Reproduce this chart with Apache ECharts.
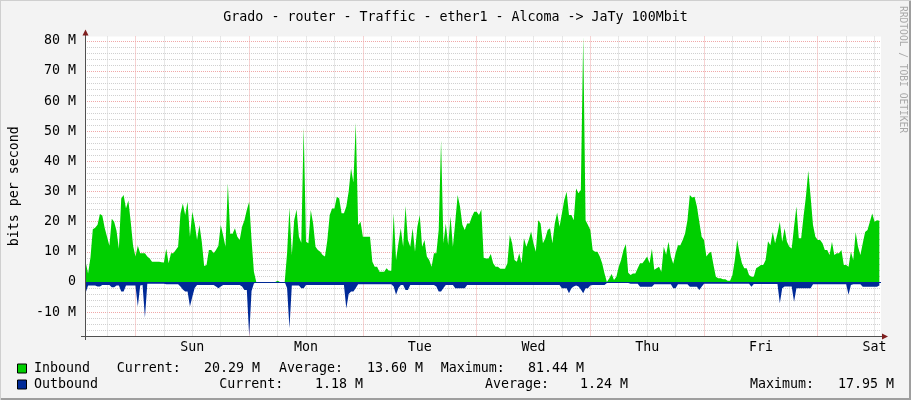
<!DOCTYPE html>
<html><head><meta charset="utf-8">
<script src="https://cdn.jsdelivr.net/npm/echarts@6/dist/echarts.min.js"></script>
<style>html,body{margin:0;padding:0;background:#f3f3f3}#c{width:911px;height:400px}</style>
</head><body><div id="c"></div>
<script>
// ---------- data ----------
const titleText = 'Grado - router - Traffic - ether1 - Alcoma -> JaTy 100Mbit';
const yAxisTitle = 'bits per second';
const sideText = 'RRDTOOL / TOBI OETIKER';
const dayLabels = ['Sun', 'Mon', 'Tue', 'Wed', 'Thu', 'Fri', 'Sat'];
const dayLabelHours = [12, 36, 60, 84, 108, 132, 156];
const majorGridHours = [0, 24, 48, 72, 96, 120, 144];
const minorGridHours = [-6, 6, 12, 18, 30, 36, 42, 54, 60, 66, 78, 84, 90, 102, 108, 114, 126, 132, 138, 150, 156];
const yLabelValues = [-10, 0, 10, 20, 30, 40, 50, 60, 70, 80];
const majorGridValues = [-10, 0, 10, 20, 30, 40, 50, 60, 70, 80];
const minorGridValues = [-16, -14, -12, -8, -6, -4, -2, 2, 4, 6, 8, 12, 14, 16, 18, 22, 24, 26, 28, 32, 34, 36, 38,
  42, 44, 46, 48, 52, 54, 56, 58, 62, 64, 66, 68, 72, 74, 76, 78];
const xMinHour = -10.65, xMaxHour = 157.35;   // hours relative to Sunday 00:00
const yMinValue = -17.95, yMaxValue = 81.44;  // M bits/s
const startHour = -10.5, stepHours = 0.5;

const inbound = [
  6.5, 2.8, 8, 17.5, 18, 19, 22.5, 22, 18, 15,
  12, 21, 20, 17, 11, 27.7, 28.8, 24.4, 27, 20,
  12, 8.4, 12, 9.5, 9.5, 9.5, 8.4, 7.8, 6.7, 6.7,
  6.7, 6.7, 6.5, 6.4, 11, 6.2, 9.5, 9.5, 10.6, 11.7,
  22.7, 26, 22.2, 26.6, 15, 23.3, 19.4, 13.9, 18.9, 13.3,
  5.3, 5.6, 10.6, 10.6, 9.5, 10.6, 12, 18.9, 15.5, 11.7,
  32.7, 16, 16, 17.8, 15, 13.9, 18.3, 20.5, 23.9, 26.6,
  14, 3.4, 0, 0, 0, 0, 0, 0, 0, 0,
  0, 0.4, 0, 0, 0, 9.5, 24.7, 8.9, 20.5, 24,
  15, 13, 51.3, 13.3, 12.8, 23.9, 19.4, 11.7, 10.6, 10,
  8.9, 8.4, 13.9, 22.2, 24.4, 24.4, 28.3, 27.7, 22.8, 22.8,
  25, 30, 37.7, 33, 52.8, 18.9, 20, 15, 15, 15,
  15, 6.7, 5, 5, 3.4, 3.4, 3.4, 4.5, 3.7, 3.7,
  22.8, 7.3, 12.8, 17.8, 11.7, 25.2, 13.9, 11.7, 17.8, 10,
  18.3, 22.2, 11.7, 13.9, 8.4, 7.3, 5, 9.5, 9.5, 17.2,
  47, 12.8, 19.4, 12.2, 21.7, 11.7, 20, 28.8, 25, 19,
  17.2, 19.4, 19.4, 21.6, 23.3, 23.3, 22.2, 24, 8, 7.8,
  7.8, 9.3, 6.2, 5, 5, 4.4, 4.4, 4.4, 6.2, 15.6,
  12.8, 7.3, 6.7, 9.5, 6.2, 14.5, 11.7, 13.9, 16.7, 12.8,
  10, 20.5, 19.4, 12.8, 14.5, 17.2, 17.8, 12.8, 19.4, 23,
  18.3, 22.7, 27.2, 29.9, 22.2, 22.2, 20.5, 31, 29.4, 30.5,
  81.44, 20.5, 18.9, 17.2, 10.6, 10, 10, 8.4, 6.2, 2.8,
  0, 1.2, 2.6, 0.6, 1.7, 5, 7.3, 10.6, 12.6, 3,
  2.3, 2.8, 2.8, 4.5, 6.2, 6.2, 7.3, 8.4, 6.2, 11,
  4, 4.5, 5, 3.4, 11.7, 9, 13.3, 8.4, 6, 9.5,
  12.2, 12.2, 13.9, 16.1, 20.5, 28.8, 28, 28.3, 25, 20,
  15, 13.9, 8.4, 9.5, 10, 5.6, 1.7, 1.2, 1.2, 0.85,
  0.85, 0.4, 0.4, 2.3, 7.3, 14, 9.5, 6.2, 4.5, 4.5,
  2.3, 1.7, 1.7, 4.5, 5, 5.6, 5.6, 7.3, 13.5, 12.2,
  16.6, 12.8, 16.1, 20, 13.3, 17.8, 13.3, 11.7, 11.1, 18.3,
  25, 14.5, 14.5, 21.7, 28.3, 36.9, 28.3, 18.9, 15, 13.9,
  13.9, 12.8, 10.6, 10.6, 8.9, 13.3, 8.9, 9.5, 9.5, 10.6,
  5.6, 5.6, 5, 10, 7.3, 16.6, 11.7, 8.9, 12.8, 16.6,
  17.2, 20, 22.7, 20, 20.5, 20.29
];

const outbound = [
  -3.5, -1.2, -1.2, -1.2, -1.2, -1.5, -1.5, -1, -1, -1,
  -1, -1.8, -1.8, -1.2, -1.2, -3.2, -3.2, -1.2, -1.2, -1.2,
  -1.2, -1.2, -8.2, -1.2, -1, -11.9, -0.6, -0.6, -0.6, -0.6,
  -0.6, -0.6, -0.6, -0.6, -0.8, -0.8, -0.8, -0.8, -0.8, -0.8,
  -1.5, -2.5, -3.2, -3.2, -8.2, -4.9, -2, -1, -1, -1,
  -1, -1, -1, -1, -1, -1.5, -2.1, -1.5, -1, -1,
  -1, -1, -1, -1, -1, -1, -1.5, -2.7, -2.7, -17.95,
  -3, -0.5, 0, 0, 0, 0, 0, 0, 0, 0,
  0, 0, 0, 0, 0, -2, -15.4, -1.2, -1.2, -1.2,
  -1.2, -2.1, -2.1, -1, -1, -1, -1, -1, -1, -1,
  -1, -1, -1, -1, -1, -1, -1, -1, -1, -1,
  -8.8, -4, -3.2, -3.2, -2, -0.8, -0.8, -0.8, -0.8, -0.8,
  -0.8, -0.8, -0.8, -0.8, -0.8, -0.8, -0.8, -0.8, -0.8, -0.8,
  -1.5, -4.3, -2, -1, -1, -2.7, -2.7, -1, -1, -1,
  -1, -1, -1, -1, -1, -1, -1, -1, -1.5, -3.2,
  -3.2, -2, -1, -1, -1, -1, -2.1, -2.1, -2.1, -2.1,
  -2.1, -1, -1, -1, -1, -1, -1, -1, -1, -1,
  -1, -1, -1, -1, -1, -1, -1, -1, -1, -1,
  -1, -1, -1, -1, -1, -1, -1, -1, -1, -1,
  -1, -1, -1, -1, -1, -1, -1, -1, -1, -1,
  -1, -2.1, -2.1, -2.1, -3.8, -2.1, -1.5, -1.2, -1.5, -2.5,
  -3.8, -2.1, -2.1, -1.2, -1, -1, -1, -1, -1, -1,
  -0.4, -0.4, -0.4, -0.4, -0.4, -0.4, -0.4, -0.4, -0.4, -0.4,
  -0.6, -0.6, -0.6, -0.6, -1.6, -1.6, -1.6, -1.6, -1.6, -1.6,
  -0.8, -0.8, -0.8, -0.8, -0.8, -0.8, -0.8, -0.8, -2.1, -2.1,
  -0.8, -0.8, -0.8, -0.8, -0.8, -1.6, -1.6, -1.6, -1.6, -2.7,
  -1.6, -0.6, -0.6, -0.6, -0.6, -0.6, -0.6, -0.6, -0.6, -0.6,
  -0.6, -0.6, -0.6, -0.6, -0.6, -0.6, -0.6, -0.6, -0.6, -0.6,
  -0.6, -1.6, -0.7, -0.7, -0.7, -0.7, -0.7, -0.7, -0.7, -0.7,
  -0.7, -0.7, -0.7, -7.1, -2.1, -1.5, -1.5, -1.5, -1.5, -6.6,
  -2.1, -2.1, -2.1, -2.1, -2.1, -2.1, -2.1, -0.8, -0.8, -0.8,
  -0.8, -0.8, -0.8, -0.8, -0.8, -0.8, -0.8, -0.8, -0.8, -0.8,
  -0.8, -0.8, -4.3, -1, -0.8, -0.8, -0.8, -0.8, -1.6, -1.6,
  -1.6, -1.6, -1.6, -1.6, -1.6, -1.18
];

const legendNames = ['Inbound', 'Outbound'];
const legendCurrent = ['20.29 M', '1.18 M'];
const legendAverage = ['13.60 M', '1.24 M'];
const legendMaximum = ['81.44 M', '17.95 M'];

// ---------- styles ----------
const FONT = 'DejaVu Sans Mono';
const FS = 13.3;
const colors = ['#00CF00', '#002A97'];
const gridMinor = '#d0d0d0';
const gridMajor = '#f0a8a8';
const axisColor = '#505050';

const inData = inbound.map((v, i) => [startHour + i * stepHours, v]);
const outData = outbound.map((v, i) => [startHour + i * stepHours, v]);

const chart = echarts.init(document.getElementById('c'), null, {renderer: 'canvas', width: 911, height: 400});

// grid-only axes: same range as the main axes, only their split lines are drawn
const gridX = (vals, color) => ({
  type: 'value', min: xMinHour, max: xMaxHour, show: true, position: 'bottom',
  axisLine: {show: false}, axisLabel: {show: false},
  axisTick: {show: false, customValues: vals},
  splitLine: {show: true, showMinLine: true, showMaxLine: true, lineStyle: {color: color, width: 1, type: [1, 1]}}
});
const gridY = (vals, color) => ({
  type: 'value', min: yMinValue, max: yMaxValue, show: true, position: 'left',
  axisLine: {show: false}, axisLabel: {show: false},
  axisTick: {show: false, customValues: vals},
  splitLine: {show: true, showMinLine: true, showMaxLine: true, lineStyle: {color: color, width: 1, type: [1, 1]}}
});

const option = {
  animation: false,
  backgroundColor: '#f3f3f3',
  title: {
    text: titleText, left: 'center', top: 6,
    textStyle: {fontFamily: FONT, fontSize: FS, fontWeight: 'normal', color: '#000'}
  },
  grid: {left: 81, right: 30, top: 36.5, bottom: 64, show: true, backgroundColor: '#ffffff', borderWidth: 0},
  xAxis: [
    {
      type: 'value', min: xMinHour, max: xMaxHour, position: 'bottom', z: 5,
      axisLine: {show: true, onZero: false, lineStyle: {color: axisColor, width: 1}},
      axisTick: {show: false},
      splitLine: {show: false},
      axisLabel: {
        customValues: dayLabelHours, margin: 5,
        fontFamily: FONT, fontSize: FS, color: '#000',
        formatter: v => dayLabels[dayLabelHours.indexOf(v)] || ''
      }
    },
    gridX(minorGridHours, gridMinor),
    gridX(majorGridHours, gridMajor)
  ],
  yAxis: [
    {
      type: 'value', min: yMinValue, max: yMaxValue, position: 'left', z: 5,
      name: yAxisTitle, nameLocation: 'middle', nameGap: 64,
      nameTextStyle: {fontFamily: FONT, fontSize: FS, color: '#000'},
      axisLine: {show: true, onZero: false, lineStyle: {color: axisColor, width: 1}},
      axisTick: {show: false},
      splitLine: {show: false},
      axisLabel: {
        customValues: yLabelValues, margin: 9,
        fontFamily: FONT, fontSize: FS, color: '#000',
        formatter: v => v === 0 ? '0' : v + ' M'
      }
    },
    gridY(minorGridValues, gridMinor),
    gridY(majorGridValues, gridMajor)
  ],
  series: [
    {
      name: legendNames[0], type: 'line', data: inData, z: 2,
      showSymbol: false, silent: true,
      lineStyle: {width: 0, color: colors[0]}, itemStyle: {color: colors[0]},
      areaStyle: {color: colors[0], opacity: 1}
    },
    {
      name: legendNames[1], type: 'line', data: outData, z: 3,
      showSymbol: false, silent: true,
      lineStyle: {width: 0, color: colors[1]}, itemStyle: {color: colors[1]},
      areaStyle: {color: colors[1], opacity: 1},
      markLine: {silent: true, symbol: ['none', 'none'], label: {show: false}, animation: false,
        data: [{yAxis: 0, lineStyle: {color: colors[1], width: 1.2, type: 'solid'}}]}
    }
  ]
};
chart.setOption(option);

// ---------- decorations: arrows, legend, border ----------
const xl = chart.convertToPixel({xAxisIndex: 0}, xMinHour);
const xr = chart.convertToPixel({xAxisIndex: 0}, xMaxHour);
const yt = chart.convertToPixel({yAxisIndex: 0}, yMaxValue);
const yb = chart.convertToPixel({yAxisIndex: 0}, yMinValue);
const ax = Math.round(xl) + 0.5, ay = Math.round(yb) + 0.5;

const txt = (s, x, y) => ({
  type: 'text', x: x, y: y, silent: true,
  style: {text: s, fontFamily: FONT, fontSize: FS, fill: '#000', align: 'left', verticalAlign: 'middle'}
});

const rowY = [368.5, 384.5];
const colX = [
  [34, 116.7, 204, 279, 367, 440.7, 528],
  [34, 219.3, 315, 485, 580, 750, 838]
];
const graphics = [
  {type: 'line', silent: true, shape: {x1: ax, y1: yb, x2: ax, y2: yb + 4}, style: {stroke: axisColor, lineWidth: 1}},
  {type: 'line', silent: true, shape: {x1: xl - 4, y1: ay, x2: xl, y2: ay}, style: {stroke: axisColor, lineWidth: 1}},
  {type: 'line', silent: true, shape: {x1: ax, y1: yt, x2: ax, y2: yt - 4}, style: {stroke: axisColor, lineWidth: 1}},
  {type: 'line', silent: true, shape: {x1: xr, y1: ay, x2: xr + 3, y2: ay}, style: {stroke: axisColor, lineWidth: 1}},
  {type: 'polygon', silent: true, shape: {points: [[ax - 3, yt - 1], [ax + 3, yt - 1], [ax, yt - 7]]}, style: {fill: '#7f1f1f'}},
  {type: 'polygon', silent: true, shape: {points: [[xr + 1, ay - 3], [xr + 1, ay + 3], [xr + 7, ay]]}, style: {fill: '#7f1f1f'}},
  {type: 'text', x: 902, y: 6, rotation: -Math.PI / 2, silent: true,
    style: {text: sideText, fontFamily: FONT, fontSize: 9.6, fill: '#a8a8a8', align: 'left', verticalAlign: 'middle'}},
  {type: 'rect', silent: true, shape: {x: 0, y: 398, width: 911, height: 2}, style: {fill: '#9e9e9e'}},
  {type: 'rect', silent: true, shape: {x: 909, y: 0, width: 2, height: 400}, style: {fill: '#9e9e9e'}},
  {type: 'rect', silent: true, shape: {x: 0, y: 0, width: 911, height: 1}, style: {fill: '#cfcfcf'}},
  {type: 'rect', silent: true, shape: {x: 0, y: 0, width: 1, height: 400}, style: {fill: '#cfcfcf'}}
];
legendNames.forEach((name, r) => {
  const y = rowY[r], c = colX[r];
  graphics.push({type: 'rect', silent: true, shape: {x: 17.5, y: y - 4.5, width: 9, height: 9},
    style: {fill: colors[r], stroke: '#000', lineWidth: 1}});
  graphics.push(txt(name, c[0], y));
  graphics.push(txt('Current:', c[1], y));
  graphics.push(txt(legendCurrent[r], c[2], y));
  graphics.push(txt('Average:', c[3], y));
  graphics.push(txt(legendAverage[r], c[4], y));
  graphics.push(txt('Maximum:', c[5], y));
  graphics.push(txt(legendMaximum[r], c[6], y));
});
chart.setOption({graphic: graphics});
</script></body></html>
